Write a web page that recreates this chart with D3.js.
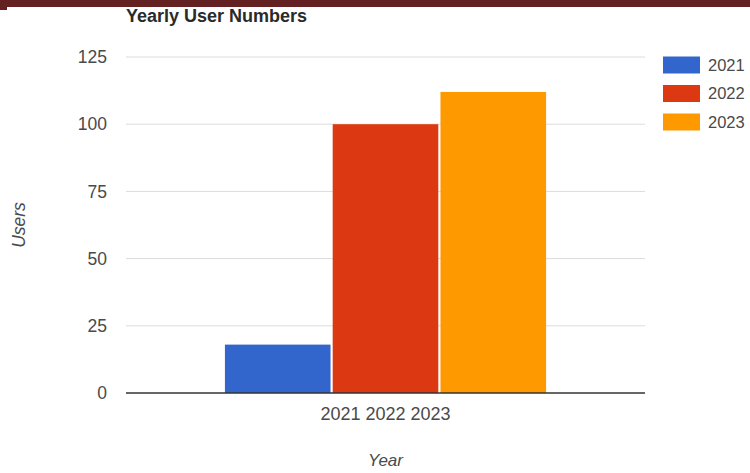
<!DOCTYPE html>
<html>
<head>
<meta charset="utf-8">
<script src="https://cdn.jsdelivr.net/npm/d3@7/dist/d3.min.js"></script>
<style>
  html, body { margin: 0; padding: 0; background: #fff; }
  svg { display: block; font-family: Arial, "Liberation Sans", sans-serif; }
</style>
</head>
<body>
<svg id="chart" width="750" height="473"></svg>
<script>
// Chart data
const categories = ["2021 2022 2023"];
const seriesNames = ["2021", "2022", "2023"];
const seriesValues = [18, 100, 112];
const seriesColors = ["#3366cc", "#dc3912", "#ff9900"];
const yTicks = [0, 25, 50, 75, 100, 125];

const svg = d3.select("#chart");
const W = 750, H = 473;
const FONT = "Arial, 'Liberation Sans', sans-serif";

// Dark header band
svg.append("rect").attr("x", 0).attr("y", 0).attr("width", W).attr("height", 7).attr("fill", "#632121");
svg.append("rect").attr("x", 0).attr("y", 0).attr("width", 7).attr("height", 10).attr("fill", "#632121");

const plot = { left: 126, right: 645, top: 57, bottom: 393 };

const y = d3.scaleLinear().domain([0, 125]).range([plot.bottom, plot.top]);
const x0 = d3.scaleBand().domain(categories).range([plot.left, plot.right])
  .paddingInner(0).paddingOuter(0.308);
const x1 = d3.scaleBand().domain(seriesNames).range([0, x0.bandwidth()]).paddingInner(0.02);

// Gridlines
svg.append("g").selectAll("line").data(yTicks.filter(d => d !== 0)).join("line")
  .attr("x1", plot.left).attr("x2", plot.right)
  .attr("y1", d => y(d)).attr("y2", d => y(d))
  .attr("stroke", "#dcdcdc").attr("stroke-width", 1);

// Y axis labels
const yAxis = d3.axisLeft(y).tickValues(yTicks).tickSize(0).tickPadding(19);
const gy = svg.append("g").attr("transform", `translate(${plot.left},0)`).call(yAxis);
gy.select(".domain").remove();
gy.selectAll("text").attr("fill", "#4a4a4a").attr("font-size", 17.5).attr("font-family", FONT);

// Bars
const group = svg.append("g").selectAll("g").data(categories).join("g")
  .attr("transform", d => `translate(${x0(d)},0)`);
group.selectAll("rect")
  .data(seriesNames.map((s, i) => ({ s, v: seriesValues[i], c: seriesColors[i] })))
  .join("rect")
  .attr("x", d => x1(d.s))
  .attr("width", x1.bandwidth())
  .attr("y", d => y(d.v))
  .attr("height", d => y(0) - y(d.v))
  .attr("fill", d => d.c);

// Baseline
svg.append("line").attr("x1", plot.left).attr("x2", plot.right)
  .attr("y1", y(0)).attr("y2", y(0)).attr("stroke", "#333").attr("stroke-width", 1.3);

// X axis category labels
const xAxis = d3.axisBottom(x0).tickSize(0).tickPadding(14);
const gx = svg.append("g").attr("transform", `translate(0,${plot.bottom})`).call(xAxis);
gx.select(".domain").remove();
gx.selectAll("text").attr("fill", "#4a4a4a").attr("font-size", 18).attr("font-family", FONT);

// Title
svg.append("text").attr("x", 126).attr("y", 22)
  .attr("font-size", 18).attr("font-weight", "bold").attr("fill", "#2a2a2a")
  .text("Yearly User Numbers");

// Axis titles
svg.append("text").attr("x", x0(categories[0]) + x0.bandwidth() / 2).attr("y", 466)
  .attr("text-anchor", "middle").attr("font-size", 17).attr("font-style", "italic")
  .attr("fill", "#4a4a4a").text("Year");
svg.append("text").attr("transform", "translate(25,225) rotate(-90)")
  .attr("text-anchor", "middle").attr("font-size", 17.5).attr("font-style", "italic")
  .attr("fill", "#4a4a4a").text("Users");

// Legend
const legend = svg.append("g").selectAll("g").data(seriesNames).join("g")
  .attr("transform", (d, i) => `translate(663,${56.5 + i * 28.5})`);
legend.append("rect").attr("width", 37).attr("height", 17)
  .attr("fill", (d, i) => seriesColors[i]);
legend.append("text").attr("x", 45).attr("y", 14)
  .attr("font-size", 16.5).attr("fill", "#4a4a4a").text(d => d);
</script>
</body>
</html>
